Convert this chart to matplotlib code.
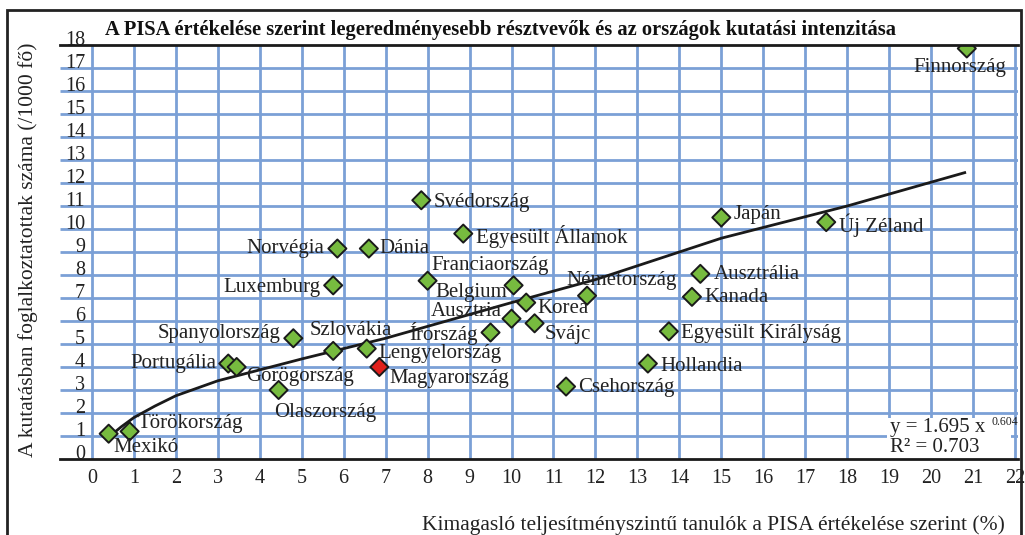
import matplotlib
matplotlib.use("Agg")
import matplotlib.pyplot as plt
from matplotlib.patches import Rectangle

plt.rcParams['font.family'] = ['Liberation Serif', 'DejaVu Serif']

# Data
countries = ['Mexikó', 'Törökország', 'Portugália', 'Görögország', 'Olaszország',
             'Spanyolország', 'Szlovákia', 'Lengyelország', 'Magyarország', 'Luxemburg',
             'Norvégia', 'Dánia', 'Svédország', 'Egyesült Államok', 'Franciaország',
             'Belgium', 'Ausztria', 'Írország', 'Korea', 'Svájc', 'Németország',
             'Csehország', 'Hollandia', 'Egyesült Királyság', 'Kanada', 'Ausztrália',
             'Japán', 'Új Zéland', 'Finnország']
pisa_top = [0.4, 0.9, 3.25, 3.45, 4.45, 4.8, 5.75, 6.55, 6.85, 5.75,
            5.85, 6.6, 7.85, 8.85, 8.0, 10.05, 10.0, 9.5, 10.35, 10.55, 11.8,
            11.3, 13.25, 13.75, 14.3, 14.5, 15.0, 17.5, 20.85]
researchers = [1.1, 1.2, 4.15, 4.0, 3.0, 5.25, 4.7, 4.8, 4.0, 7.55,
               9.15, 9.15, 11.25, 9.8, 7.75, 7.55, 6.1, 5.5, 6.8, 5.9, 7.1,
               3.15, 4.15, 5.55, 7.05, 8.05, 10.5, 10.3, 17.85]

# trend line as drawn in the source chart
trend_x = [0.5, 0.7, 1.0, 1.5, 2.0, 3.0, 5.0, 7.0, 10.0, 12.0, 15.0, 18.0, 20.8]
trend_y = [1.1, 1.4, 1.8, 2.3, 2.75, 3.4, 4.35, 5.25, 6.8, 7.8, 9.6, 11.0, 12.45]

x_ticks = list(range(0, 23))
y_ticks = list(range(0, 19))

title = 'A PISA értékelése szerint legeredményesebb résztvevők és az országok kutatási intenzitása'
xlabel = 'Kimagasló teljesítményszintű tanulók a PISA értékelése szerint (%)'
ylabel = 'A kutatásban foglalkoztatottak száma (/1000 fő)'

# label placement: (dx, dy) in pixels, horizontal alignment
label_pos = [(5, -14, 'left'), (8, 8, 'left'), (-12, 0, 'right'), (9, -10, 'left'),
             (-4, -22, 'left'), (-13, 5, 'right'), (-24, 20, 'left'), (12, -5, 'left'),
             (10, -11, 'left'), (-13, -2, 'right'), (-13, 0, 'right'), (11, 0, 'left'),
             (12, -2, 'left'), (13, -3, 'left'), (4, 15, 'left'), (-6, -7, 'right'),
             (-10, 7, 'right'), (-13, -1, 'right'), (11, -6, 'left'), (10, -11, 'left'),
             (-21, 15, 'left'), (12, -1, 'left'), (12, -3, 'left'), (12, -2, 'left'),
             (12, -1, 'left'), (13, -1, 'left'), (12, 3, 'left'), (13, -3, 'left'),
             (39, -19, 'right')]

grid_color = '#7ba0d6'
green = '#77bb3f'
red = '#e0201c'
ink = '#222222'

fig = plt.figure(figsize=(10.25, 5.35), dpi=100)
ax = fig.add_axes([60 / 1025, 76 / 535, 958 / 1025, 414 / 535])
x_lo, x_hi = -0.76, 22.07
ax.set_xlim(x_lo, x_hi)
ax.set_ylim(0, 18)

# grid
ax.vlines(x_ticks, 0, 18, color=grid_color, lw=2, zorder=1)
ax.hlines(y_ticks[1:-1], x_lo, x_hi, color=grid_color, lw=2, zorder=1)

for s in ['left', 'right']:
    ax.spines[s].set_visible(False)
for s in ['top', 'bottom']:
    ax.spines[s].set_linewidth(2)
    ax.spines[s].set_color('#1a1a1a')
    ax.spines[s].set_zorder(5)

ax.set_xticks(x_ticks)
ax.set_xticklabels([str(t) for t in x_ticks], fontsize=14.5, color=ink)
ax.set_yticks(y_ticks)
ax.set_yticklabels([str(t) for t in y_ticks], fontsize=14.5, color=ink)
ax.tick_params(axis='x', length=0, pad=7)
ax.tick_params(axis='y', length=0, pad=-18)
for lab in ax.get_yticklabels():
    lab.set_va('baseline')

# trend line
ax.plot(trend_x, trend_y, color='#1a1a1a', lw=2, zorder=3)

# points and labels
colors = [red if c == 'Magyarország' else green for c in countries]
ax.scatter(pisa_top, researchers, marker='D', s=85, c=colors,
           edgecolors='#1a1a1a', linewidths=1.4, zorder=4)
for name, x, y, (dx, dy, ha) in zip(countries, pisa_top, researchers, label_pos):
    ax.annotate(name, (x, y), xytext=(dx * 0.72, dy * 0.72), textcoords='offset points',
                ha=ha, va='center', fontsize=15, color=ink, zorder=6)

# equation box
ax.add_patch(Rectangle((18.95, 0.02), 2.95, 1.75, facecolor='white',
                       edgecolor='none', zorder=2))
ax.text(19.03, 1.35, 'y = 1.695 x', fontsize=15, va='center', ha='left',
        color=ink, zorder=6)
ax.text(21.45, 1.62, '0.604', fontsize=8.5, va='center', ha='left',
        color=ink, zorder=6)
ax.text(19.03, 0.48, 'R² = 0.703', fontsize=15, va='center', ha='left',
        color=ink, zorder=6)

# texts
fig.text(105 / 1025, 1 - 35 / 535, title, fontsize=14.8, fontweight='bold',
         ha='left', va='baseline', color='#111111')
fig.text(28 / 1025, 1 - 250 / 535, ylabel, rotation=90, fontsize=15.5,
         ha='center', va='center', color=ink)
fig.text(1005 / 1025, 10 / 535, xlabel, fontsize=15.5, ha='right', va='center',
         color=ink)

# outer frame
fig.add_artist(Rectangle((7 / 1025, -0.05), 1014 / 1025, 1.05 - 10 / 535,
                         transform=fig.transFigure, fill=False,
                         edgecolor=ink, lw=2))

fig.savefig('out.png', dpi=100)
